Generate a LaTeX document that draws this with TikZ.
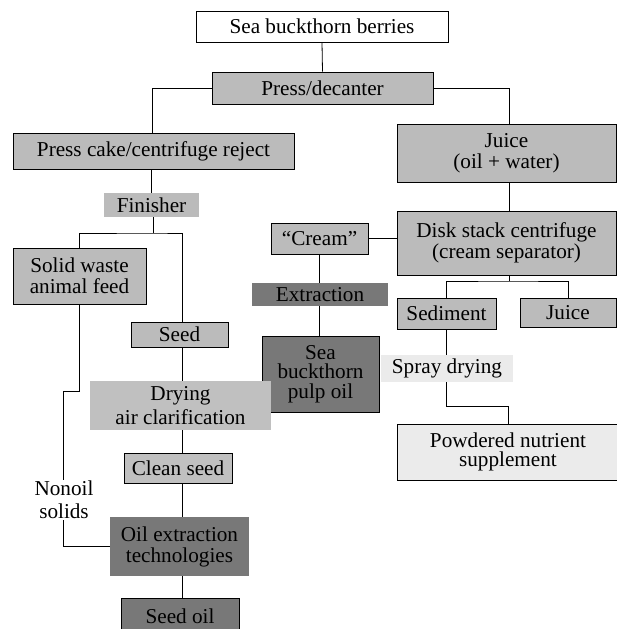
\documentclass[tikz,border=0pt]{standalone}
\usepackage{fontspec}
\setmainfont{Liberation Serif}
\usetikzlibrary{backgrounds}
\definecolor{midgray}{HTML}{BBBBBB}
\definecolor{lightmid}{HTML}{C0C0C0}
\definecolor{darkgraytwo}{HTML}{787878}
\definecolor{palegray}{HTML}{EBEBEB}
\tikzset{
  base/.style={inner sep=0pt, align=center, line width=0.8pt,
    font=\fontsize{21.2}{21}\selectfont},
  sz/.style 2 args={minimum width=#1pt, minimum height=#2pt},
  wbox/.style={base, draw=black, fill=white},
  mbox/.style={base, draw=black, fill=midgray},
  mplain/.style={base, fill=midgray},
  lplain/.style={base, fill=lightmid},
  lbox/.style={base, draw=black, fill=lightmid},
  dbox/.style={base, draw=black, fill=darkgraytwo},
  dplain/.style={base, fill=darkgraytwo},
  pplain/.style={base, fill=palegray},
  pbox/.style={base, draw=black, fill=palegray},
  label2/.style={base, fill=white, inner sep=1pt},
  conn/.style={line width=0.8pt, draw=black}
}
\begin{document}
\begin{tikzpicture}[x=1pt, y=-1pt]
\useasboundingbox (0,0) rectangle (617,629);
\clip (0,0) rectangle (617,629);

\node[wbox, sz={252}{31}] (berries) at (322,26.5) {Sea buckthorn berries};
\node[mbox, sz={221}{32}] (press) at (322.5,88) {Press/decanter};
\node[mbox, sz={281}{36}] (cake) at (153.5,151) {Press cake/centrifuge reject};
\node[mplain, sz={95}{24}] (finisher) at (151.5,205) {Finisher};
\node[mbox, sz={219}{58}] (juice) at (506.5,153) {Juice\\(oil + water)};
\node[mbox, sz={219}{64}] (disk) at (506.5,243) {Disk stack centrifuge\\(cream separator)};
\node[mbox, sz={97}{31}] (cream) at (319.5,238.5) {``Cream''};
\node[dplain, sz={136}{23}] (extraction) at (320,294.5) {Extraction};
\node[dbox, sz={117}{76}, font=\fontsize{21.2}{19.5}\selectfont] (pulp) at (320.5,374) {Sea\\buckthorn\\pulp oil};
\node[mbox, sz={99}{31}] (sediment) at (446.5,313.5) {Sediment};
\node[mbox, sz={96}{29}] (juicetwo) at (568,312.5) {Juice};
\node[pplain, sz={132}{27}] (spray) at (447,368.5) {Spray drying};
\node[pbox, sz={222}{56}, font=\fontsize{21.2}{19.5}\selectfont] (powdered) at (508,452) {Powdered nutrient\\supplement};
\node[mbox, sz={133}{56}] (solid) at (79.5,276) {Solid waste\\animal feed};
\node[mbox, sz={97}{25}] (seed) at (179.5,334.5) {Seed};
\node[lplain, sz={181}{49}, font=\fontsize{21.2}{24}\selectfont] (drying) at (180.5,405.5) {Drying\\air clarification};
\node[lbox, sz={108}{30}] (clean) at (178,468) {Clean seed};
\node[dplain, sz={139}{59}] (oilext) at (179.5,546.5) {Oil extraction\\technologies};
\node[dbox, sz={118}{36}] (seedoil) at (180,616) {Seed oil};
\node[label2, font=\fontsize{21.2}{23}\selectfont] (nonoil) at (64,500) {Nonoil\\solids};

\coordinate (trunk) at (182,0);
\coordinate (ctrunk) at (319,0);
\coordinate (rtrunk) at (509,0);
\coordinate (fj) at (153,233);
\coordinate (dj) at (509,281);
\coordinate (pj) at (508,406);
\coordinate (sj) at (63,391);

\begin{scope}[on background layer]
\draw[conn] (berries.south) -- (press.north);
\draw[conn] (press.west) -| (cake.north -| 152,0);
\draw[conn] (press.east) -| (juice.north -| rtrunk);
\draw[conn] (cake.south -| finisher.north) -- (finisher.north);
\draw[conn] (finisher.south -| fj) -- (fj);
\draw[conn] (solid.north) |- (fj) -| (seed.north -| trunk);
\draw[conn] (seed.south -| trunk) -- (drying.north -| trunk);
\draw[conn] (drying.south -| trunk) -- (clean.north -| trunk);
\draw[conn] (clean.south -| trunk) -- (oilext.north -| trunk);
\draw[conn] (oilext.south -| trunk) -- (seedoil.north -| trunk);
\draw[conn] (solid.south) |- (sj) |- (oilext.west);
\draw[conn] (juice.south -| rtrunk) -- (disk.north -| rtrunk);
\draw[conn] (cream.east) -- (cream.east -| disk.west);
\draw[conn] (cream.south -| ctrunk) -- (extraction.north -| ctrunk);
\draw[conn] (extraction.south -| ctrunk) -- (pulp.north -| ctrunk);
\draw[conn] (disk.south -| dj) -- (dj);
\draw[conn] (sediment.north) |- (dj) -| (juicetwo.north);
\draw[conn] (sediment.south) -- (spray.north -| sediment.south);
\draw[conn] (spray.south -| sediment.south) |- (pj) -- (powdered.north);
\end{scope}
\end{tikzpicture}
\end{document}
